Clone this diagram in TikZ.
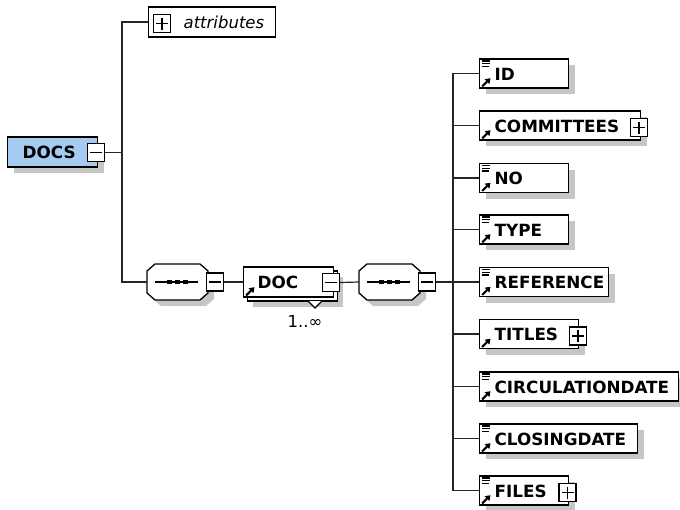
\documentclass[tikz,border=0pt]{standalone}
\usepackage{fontspec}
\setmainfont{DejaVu Sans}
\usetikzlibrary{arrows.meta,shadows}
\definecolor{shadowc}{RGB}{198,198,198}
\definecolor{docsblue}{RGB}{166,202,240}
\newcommand\elfont{\fontsize{16.8}{18}\selectfont\bfseries}
\newcommand\plfont{\fontsize{16.5}{18}\selectfont}
\begin{document}
\begin{tikzpicture}[x=1pt,y=-1pt,
  conn/.style={line width=1.2pt, draw=black!85},
  boxbase/.style={draw, line width=1.3pt, fill=white, inner xsep=0pt, inner ysep=0pt,
    align=left, minimum height=30pt, text height=13.5pt, text depth=0pt, anchor=west},
  elem/.style={boxbase, font=\elfont, minimum height=29pt,
    general shadow={fill=shadowc, shadow xshift=6pt, shadow yshift=-6pt}},
  pmbox/.style={draw, line width=1.2pt, fill=white, inner sep=0pt, minimum width=17pt, minimum height=18pt},
  minusbox/.style={pmbox, path picture={
    \draw[line width=1.1pt] ([xshift=-6pt]path picture bounding box.center) -- ([xshift=6pt]path picture bounding box.center);}},
  plusbox/.style={pmbox, path picture={
    \draw[line width=1.1pt] ([xshift=-6pt]path picture bounding box.center) -- ([xshift=6pt]path picture bounding box.center);
    \draw[line width=1.1pt] ([yshift=-6pt]path picture bounding box.center) -- ([yshift=6pt]path picture bounding box.center);}},
  seqbox/.style={draw=none, inner sep=0pt, minimum width=61pt, minimum height=36pt},
  linesicon/.pic={\draw[line width=1.3pt] (3,2.6) -- (11,2.6) (3,5.4) -- (11,5.4) (3,8.2) -- (10,8.2);},
  refarrow/.pic={\draw[line width=2pt, -{Triangle[length=5pt,width=6.5pt]}] (3.2,-2.2) -- (11.5,-10.5);},
  seqoct/.pic={
    \fill[shadowc] (-16.5,-12) -- (28.5,-12) -- (36.5,-5) -- (36.5,17) -- (28.5,24) -- (-16.5,24) -- (-24.5,17) -- (-24.5,-5) -- cycle;
    \draw[line width=1.3pt, fill=white] (-22.5,-18) -- (22.5,-18) -- (30.5,-11) -- (30.5,11) -- (22.5,18) -- (-22.5,18) -- (-30.5,11) -- (-30.5,-11) -- cycle;
    \draw[line width=1.2pt] (-22.5,0) -- (20.5,0);
    \fill (-10.25,-2.25) rectangle (-5.75,2.25);
    \fill (-2.25,-2.25) rectangle (2.25,2.25);
    \fill (5.75,-2.25) rectangle (10.25,2.25);}
]
\useasboundingbox (0,0) rectangle (680,509);

% root
\node[boxbase, font=\elfont, fill=docsblue, text width=90pt,
  general shadow={fill=shadowc, shadow xshift=6pt, shadow yshift=-6pt}] (docs) at (7,152) {\hspace*{15pt}DOCS};
\node[minusbox] (docsm) at (96,152.5) {};

% attributes
\node[boxbase, font=\plfont\itshape, text width=127pt, text height=12pt] (attr) at (148,22) {\hspace*{35pt}attributes};
\node[plusbox] (attrp) at (162,23.5) {};

% first sequence
\pic at (177.5,282) {seqoct};
\node[seqbox] (seq1) at (177.5,282) {};
\node[minusbox] (seq1m) at (215,282) {};

% DOC (repeated element)
\fill[shadowc] (253,277) rectangle (343,307);
\node[boxbase, text width=90pt] (docb) at (247,286) {};
\draw[line width=1.2pt, fill=white] (308,301) -- (315,308) -- (322,301);
\node[boxbase, font=\elfont, text width=90pt] (doc) at (243,282) {\hspace*{14pt}DOC};
\pic at (doc.south west) {refarrow};
\node[minusbox] (docm) at (331,282.5) {};
\node[font=\plfont, inner sep=0pt] (mult) at (305,321) {1..∞};

% second sequence
\pic at (389.5,282) {seqoct};
\node[seqbox] (seq2) at (389.5,282) {};
\node[minusbox] (seq2m) at (427,282) {};

% child elements
\node[elem, text width=89pt] (id) at (479,73.5) {\hspace*{15pt}ID};
\node[elem, text width=161pt] (comm) at (479,125.5) {\hspace*{15pt}COMMITTEES};
\node[elem, text width=89pt] (no) at (479,178) {\hspace*{15pt}NO};
\node[elem, text width=89pt] (type) at (479,229.5) {\hspace*{15pt}TYPE};
\node[elem, text width=129pt] (ref) at (479,282) {\hspace*{15pt}REFERENCE};
\node[elem, text width=99pt] (titles) at (479,334) {\hspace*{15pt}TITLES};
\node[elem, text width=199pt] (circ) at (479,386.5) {\hspace*{15pt}CIRCULATIONDATE};
\node[elem, text width=158pt] (clos) at (479,438.5) {\hspace*{15pt}CLOSINGDATE};
\node[elem, text width=89pt] (files) at (479,490.5) {\hspace*{15pt}FILES};

\foreach \n in {id,no,type,ref,circ,clos,files}{\pic at (\n.north west) {linesicon};}
\foreach \n in {id,comm,no,type,ref,titles,circ,clos,files}{\pic at (\n.south west) {refarrow};}

\node[plusbox] (commp) at (639,127.5) {};
\node[plusbox] (titlesp) at (578,336) {};
\node[plusbox] (filesp) at (567.5,492.5) {};

% connectors
\coordinate (ta) at (122,152.5);
\coordinate (tb) at (453,282);
\draw[conn] (docsm.east) -- (ta);
\draw[conn] (attr.west) -| (ta) |- (seq1.west);
\draw[conn] (seq1m.east) -- (doc.west);
\draw[conn] (docm.east) -- (seq2.west);
\draw[conn] (seq2m.east) -- (tb);
\draw[conn] (id.west) -| (tb) |- (files.west);
\foreach \n in {comm,no,type,ref,titles,circ,clos}{\draw[conn] (\n.west) -- (\n.west -| tb);}
\end{tikzpicture}
\end{document}
